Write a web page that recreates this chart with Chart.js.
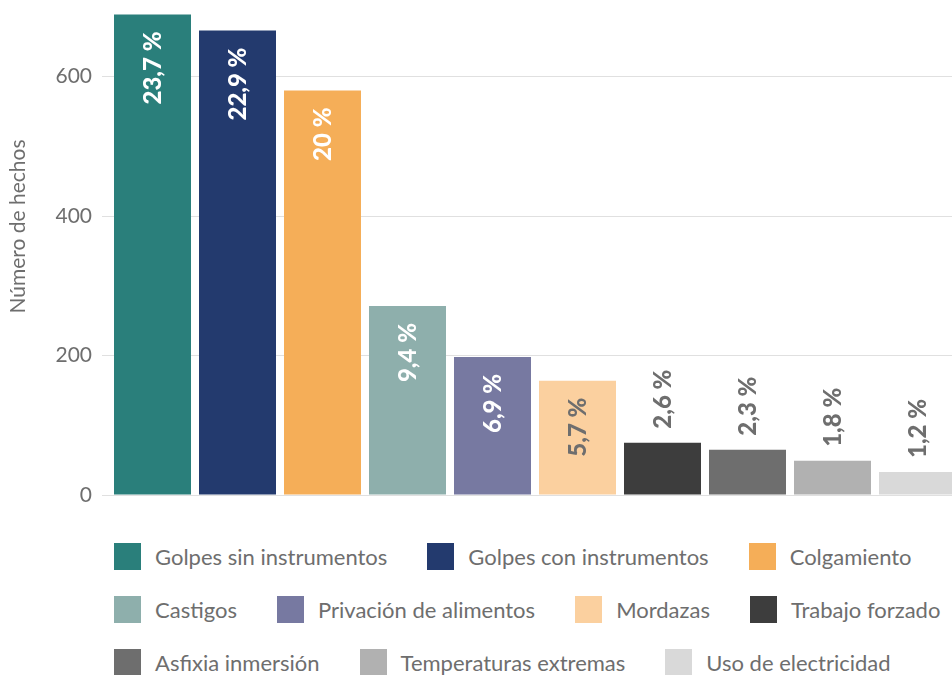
<!DOCTYPE html>
<html>
<head>
<meta charset="utf-8">
<script src="https://cdn.jsdelivr.net/npm/chart.js@4"></script>
<style>
html,body{margin:0;padding:0;background:#fff;overflow:hidden;width:952px;height:675px;position:relative;}
#wrap{position:absolute;left:0;top:-60px;width:960px;height:580px;}
#legend{position:absolute;left:114px;top:543px;width:850px;font-family:Lato,sans-serif;font-size:22px;color:#6e6e6e;}
.row{display:flex;height:27px;margin-bottom:26px;align-items:center;white-space:nowrap;}
.item{display:flex;align-items:center;margin-right:40px;}
.box{width:27px;height:27px;margin-right:14px;flex:none;}
</style>
</head>
<body>
<div id="wrap"><canvas id="c"></canvas></div>
<div id="legend"></div>
<script>
const categories = ['Golpes sin instrumentos','Golpes con instrumentos','Colgamiento','Castigos','Privación de alimentos','Mordazas','Trabajo forzado','Asfixia inmersión','Temperaturas extremas','Uso de electricidad'];
const counts = [689, 666, 580, 271, 198, 164, 75, 65, 49, 33];
const shares = ['23,7 %','22,9 %','20 %','9,4 %','6,9 %','5,7 %','2,6 %','2,3 %','1,8 %','1,2 %'];
const yTicks = [0, 200, 400, 600];
const legendRows = [[0,1,2],[3,4,5,6],[7,8,9]];

const barColors = ['#2a7f7b','#233a6e','#f5ae58','#8eafac','#7779a1','#fbd09f','#3d3d3d','#6e6e6e','#b1b1b1','#d9d9d9'];
const insideInk = ['#ffffff','#ffffff','#ffffff','#ffffff','#ffffff','#6e6e6e','#ffffff','#ffffff','#ffffff','#ffffff'];
const textGray = '#6e6e6e';

const shareLabels = {
  id: 'shareLabels',
  afterDatasetsDraw(chart) {
    const ctx = chart.ctx;
    const meta = chart.getDatasetMeta(0);
    ctx.save();
    ctx.font = '900 24px Lato, sans-serif';
    ctx.textBaseline = 'middle';
    meta.data.forEach((bar, i) => {
      const text = shares[i];
      const w = ctx.measureText(text).width;
      const h = bar.base - bar.y;
      ctx.save();
      if (w + 30 < h) {
        ctx.translate(bar.x, bar.y + 17);
        ctx.rotate(-Math.PI / 2);
        ctx.textAlign = 'right';
        ctx.fillStyle = insideInk[i];
      } else {
        ctx.translate(bar.x, bar.y - 14);
        ctx.rotate(-Math.PI / 2);
        ctx.textAlign = 'left';
        ctx.fillStyle = textGray;
      }
      ctx.fillText(text, 0, 1);
      ctx.restore();
    });
    ctx.restore();
  }
};

new Chart(document.getElementById('c'), {
  type: 'bar',
  data: {
    labels: categories,
    datasets: [{
      data: counts,
      backgroundColor: barColors,
      borderWidth: 0,
      categoryPercentage: 1,
      barPercentage: 77/85
    }]
  },
  options: {
    responsive: true,
    maintainAspectRatio: false,
    animation: false,
    layout: { padding: { top: 18, bottom: 25, left: 0, right: 0 } },
    plugins: { legend: { display: false }, tooltip: { enabled: false } },
    scales: {
      x: { display: false },
      y: {
        min: 0,
        max: 770,
        ticks: { stepSize: 200, color: textGray, font: { family: 'Lato', size: 21 }, padding: 10 },
        grid: { color: '#e0e0e0', tickLength: 8 },
        border: { display: false },
        title: { display: true, text: 'Número de hechos', color: textGray, font: { family: 'Lato', size: 21 }, padding: { top: 6, bottom: 0 } },
        afterBuildTicks: s => { s.ticks = yTicks.map(v => ({ value: v })); },
        afterFit: s => { s.width = 110; s.paddingTop = 0; s.paddingBottom = 0; }
      }
    }
  },
  plugins: [shareLabels]
});

const legend = document.getElementById('legend');
legendRows.forEach(row => {
  const r = document.createElement('div');
  r.className = 'row';
  row.forEach(i => {
    const it = document.createElement('div');
    it.className = 'item';
    const b = document.createElement('span');
    b.className = 'box';
    b.style.background = barColors[i];
    const t = document.createElement('span');
    t.textContent = categories[i];
    it.appendChild(b); it.appendChild(t);
    r.appendChild(it);
  });
  legend.appendChild(r);
});
</script>
</body>
</html>
